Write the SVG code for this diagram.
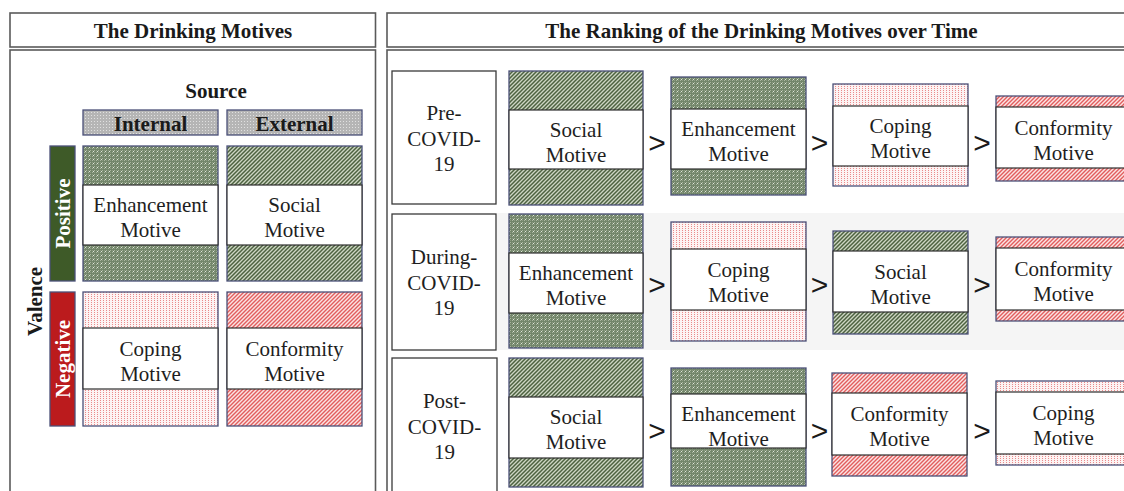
<svg xmlns="http://www.w3.org/2000/svg" width="1124" height="491" viewBox="0 0 1124 491">
  <style>
    .frame { fill: #ffffff; stroke: #5a5a5a; stroke-width: 1.6; }
    .title { font-family: "Liberation Serif", "Times New Roman", serif; font-size: 21px; font-weight: bold; fill: #1a1a1a; text-anchor: middle; }
    .box { stroke: #4b5078; stroke-width: 1.3; }
    .mid { fill: #ffffff; stroke: #2e2e2e; stroke-width: 1.2; }
    .lbl { fill: #ffffff; stroke: #3a3a3a; stroke-width: 1.3; }
    .txt { font-family: "Liberation Serif", "Times New Roman", serif; font-size: 21px; fill: #1e1e1e; text-anchor: middle; }
    .bar { font-family: "Liberation Serif", "Times New Roman", serif; font-size: 21px; font-weight: bold; fill: #ffffff; text-anchor: middle; }
    .gt { font-family: "Liberation Sans", Arial, sans-serif; font-size: 30px; fill: #1a1a1a; text-anchor: middle; }
    .internal-pos { fill: url(#pGreenDot); }
    .external-pos { fill: url(#pGreenStripe); }
    .internal-neg { fill: url(#pRedDot); }
    .external-neg { fill: url(#pRedStripe); }
  </style>
  <defs>
    <!-- internal / positive: green stipple -->
    <pattern id="pGreenDot" width="4" height="4" patternUnits="userSpaceOnUse">
      <rect width="4" height="4" fill="#72866a"/>
      <rect x="0" y="0" width="1" height="1" fill="#aab69f"/>
      <rect x="2" y="2" width="1" height="1" fill="#aab69f"/>
      <rect x="2" y="0" width="1" height="1" fill="#8d9a82"/>
      <rect x="0" y="2" width="1" height="1" fill="#8d9a82"/>
      <rect x="1" y="3" width="1" height="1" fill="#e0e6da"/>
    </pattern>
    <!-- external / positive: green diagonal hatch -->
    <pattern id="pGreenStripe" width="4" height="4" patternUnits="userSpaceOnUse">
      <rect width="4" height="4" fill="#cdd6c3"/>
      <path d="M-1,1 l2,-2 M0,4 l4,-4 M3,5 l2,-2" stroke="#4d6240" stroke-width="1.5"/>
    </pattern>
    <!-- internal / negative: red dots -->
    <pattern id="pRedDot" width="3" height="2" patternUnits="userSpaceOnUse">
      <rect width="3" height="2" fill="#fdf3f3"/>
      <rect x="1" y="0" width="1" height="1" fill="#ea8a8a"/>
    </pattern>
    <!-- external / negative: red diagonal hatch -->
    <pattern id="pRedStripe" width="4" height="4" patternUnits="userSpaceOnUse">
      <rect width="4" height="4" fill="#fbe4e4"/>
      <path d="M-1,1 l2,-2 M0,4 l4,-4 M3,5 l2,-2" stroke="#e25e5e" stroke-width="1.4"/>
    </pattern>
    <!-- source headers: grey stipple -->
    <pattern id="pGrey" width="3" height="3" patternUnits="userSpaceOnUse">
      <rect width="3" height="3" fill="#b5b5b5"/>
      <rect x="1" y="1" width="1" height="1" fill="#e0e0e0"/>
    </pattern>
  </defs>

  <rect width="1124" height="491" fill="#ffffff"/>

  <!-- left panel -->
  <g id="panel-motives">
    <rect class="frame" x="10" y="13" width="365.5" height="34"/>
    <text class="title" x="193" y="37.5">The Drinking Motives</text>
    <rect class="frame" x="10" y="50" width="365.5" height="460"/>
    <text class="title" x="216" y="97.5">Source</text>
  </g>

  <g id="source-internal">
    <rect class="box" x="83" y="110" width="135" height="25" fill="url(#pGrey)"/>
    <text class="title" x="150.5" y="130.5">Internal</text>
  </g>
  <g id="source-external">
    <rect class="box" x="227" y="110" width="135" height="25" fill="url(#pGrey)"/>
    <text class="title" x="294.5" y="130.5">External</text>
  </g>

  <g id="valence">
    <text class="title" transform="translate(42,301.5) rotate(-90)">Valence</text>
  </g>
  <g id="valence-positive">
    <rect class="box" x="50" y="146" width="25" height="135" fill="#3e5a28"/>
    <text class="bar" transform="translate(70,213.5) rotate(-90)">Positive</text>
  </g>
  <g id="valence-negative">
    <rect class="box" x="50" y="292" width="25" height="134" fill="#bb1b1d"/>
    <text class="bar" transform="translate(70,359) rotate(-90)">Negative</text>
  </g>

  <g id="enhancement">
    <rect class="box internal-pos" x="83" y="146" width="135" height="135"/>
    <rect class="mid" x="83" y="185" width="135" height="60"/>
    <text class="txt" x="150.5" y="212">Enhancement</text>
    <text class="txt" x="150.5" y="237">Motive</text>
  </g>
  <g id="social">
    <rect class="box external-pos" x="227" y="146" width="135" height="135"/>
    <rect class="mid" x="227" y="185" width="135" height="60"/>
    <text class="txt" x="294.5" y="212">Social</text>
    <text class="txt" x="294.5" y="237">Motive</text>
  </g>
  <g id="coping">
    <rect class="box internal-neg" x="83" y="292" width="135" height="134"/>
    <rect class="mid" x="83" y="328" width="135" height="61"/>
    <text class="txt" x="150.5" y="355.5">Coping</text>
    <text class="txt" x="150.5" y="380.5">Motive</text>
  </g>
  <g id="conformity">
    <rect class="box external-neg" x="227" y="292" width="135" height="134"/>
    <rect class="mid" x="227" y="328" width="135" height="61"/>
    <text class="txt" x="294.5" y="355.5">Conformity</text>
    <text class="txt" x="294.5" y="380.5">Motive</text>
  </g>

  <!-- right panel -->
  <g id="panel-ranking">
    <rect class="frame" x="387" y="13" width="760" height="34"/>
    <text class="title" x="761.5" y="37.5">The Ranking of the Drinking Motives over Time</text>
    <rect class="frame" x="387" y="50" width="760" height="460"/>
    <rect x="497" y="213" width="627" height="137" fill="#f5f5f5"/>
  </g>

  <!-- row 1: pre-COVID-19 -->
  <g id="pre-covid">
    <rect class="lbl" x="392" y="71" width="104" height="133"/>
    <text class="txt" x="444" y="120">Pre-</text>
    <text class="txt" x="444" y="145.5">COVID-</text>
    <text class="txt" x="444" y="171">19</text>
  </g>
  <g id="pre-social">
    <rect class="box external-pos" x="509" y="71" width="134" height="134"/>
    <rect class="mid" x="509" y="110" width="134" height="59"/>
    <text class="txt" x="576" y="136.5">Social</text>
    <text class="txt" x="576" y="161.5">Motive</text>
  </g>
  <g id="pre-enhancement">
    <rect class="box internal-pos" x="671" y="77" width="135" height="118"/>
    <rect class="mid" x="671" y="109" width="135" height="60"/>
    <text class="txt" x="738.5" y="136">Enhancement</text>
    <text class="txt" x="738.5" y="161">Motive</text>
  </g>
  <g id="pre-coping">
    <rect class="box internal-neg" x="833" y="84" width="135" height="102"/>
    <rect class="mid" x="833" y="106" width="135" height="60"/>
    <text class="txt" x="900.5" y="133">Coping</text>
    <text class="txt" x="900.5" y="158">Motive</text>
  </g>
  <g id="pre-conformity">
    <rect class="box external-neg" x="996" y="96" width="135" height="85"/>
    <rect class="mid" x="996" y="107" width="135" height="61"/>
    <text class="txt" x="1063.5" y="134.5">Conformity</text>
    <text class="txt" x="1063.5" y="159.5">Motive</text>
  </g>

  <!-- row 2: during-COVID-19 -->
  <g id="during-covid">
    <rect class="lbl" x="392" y="214" width="104" height="136"/>
    <text class="txt" x="444" y="264">During-</text>
    <text class="txt" x="444" y="290">COVID-</text>
    <text class="txt" x="444" y="315">19</text>
  </g>
  <g id="during-enhancement">
    <rect class="box internal-pos" x="509" y="214" width="134" height="134"/>
    <rect class="mid" x="509" y="253" width="134" height="60"/>
    <text class="txt" x="576" y="280">Enhancement</text>
    <text class="txt" x="576" y="305">Motive</text>
  </g>
  <g id="during-coping">
    <rect class="box internal-neg" x="671" y="222" width="135" height="119"/>
    <rect class="mid" x="671" y="249" width="135" height="61"/>
    <text class="txt" x="738.5" y="276.5">Coping</text>
    <text class="txt" x="738.5" y="301.5">Motive</text>
  </g>
  <g id="during-social">
    <rect class="box external-pos" x="833" y="231" width="135" height="103"/>
    <rect class="mid" x="833" y="251" width="135" height="61"/>
    <text class="txt" x="900.5" y="278.5">Social</text>
    <text class="txt" x="900.5" y="303.5">Motive</text>
  </g>
  <g id="during-conformity">
    <rect class="box external-neg" x="996" y="237" width="135" height="84"/>
    <rect class="mid" x="996" y="248" width="135" height="62"/>
    <text class="txt" x="1063.5" y="276">Conformity</text>
    <text class="txt" x="1063.5" y="301">Motive</text>
  </g>

  <!-- row 3: post-COVID-19 -->
  <g id="post-covid">
    <rect class="lbl" x="392" y="358" width="105" height="140"/>
    <text class="txt" x="444.5" y="408">Post-</text>
    <text class="txt" x="444.5" y="434">COVID-</text>
    <text class="txt" x="444.5" y="459">19</text>
  </g>
  <g id="post-social">
    <rect class="box external-pos" x="509" y="358" width="134" height="129"/>
    <rect class="mid" x="509" y="397" width="134" height="61"/>
    <text class="txt" x="576" y="424">Social</text>
    <text class="txt" x="576" y="449">Motive</text>
  </g>
  <g id="post-enhancement">
    <rect class="box internal-pos" x="671" y="368" width="135" height="118"/>
    <rect class="mid" x="671" y="394" width="135" height="54"/>
    <text class="txt" x="738.5" y="421">Enhancement</text>
    <text class="txt" x="738.5" y="446">Motive</text>
  </g>
  <g id="post-conformity">
    <rect class="box external-neg" x="832" y="373" width="135" height="103"/>
    <rect class="mid" x="832" y="393" width="135" height="62"/>
    <text class="txt" x="899.5" y="421">Conformity</text>
    <text class="txt" x="899.5" y="446">Motive</text>
  </g>
  <g id="post-coping">
    <rect class="box internal-neg" x="996" y="381" width="135" height="84"/>
    <rect class="mid" x="996" y="392" width="135" height="62"/>
    <text class="txt" x="1063.5" y="420">Coping</text>
    <text class="txt" x="1063.5" y="445">Motive</text>
  </g>

  <!-- ranking symbols between successive motives -->
  <g id="connectors">
    <text class="gt" x="657" y="153">&gt;</text>
    <text class="gt" x="819.5" y="153">&gt;</text>
    <text class="gt" x="982" y="153">&gt;</text>
    <text class="gt" x="657" y="295">&gt;</text>
    <text class="gt" x="819.5" y="295">&gt;</text>
    <text class="gt" x="982" y="295">&gt;</text>
    <text class="gt" x="657" y="440.5">&gt;</text>
    <text class="gt" x="819.5" y="440.5">&gt;</text>
    <text class="gt" x="982" y="440.5">&gt;</text>
  </g>
</svg>
